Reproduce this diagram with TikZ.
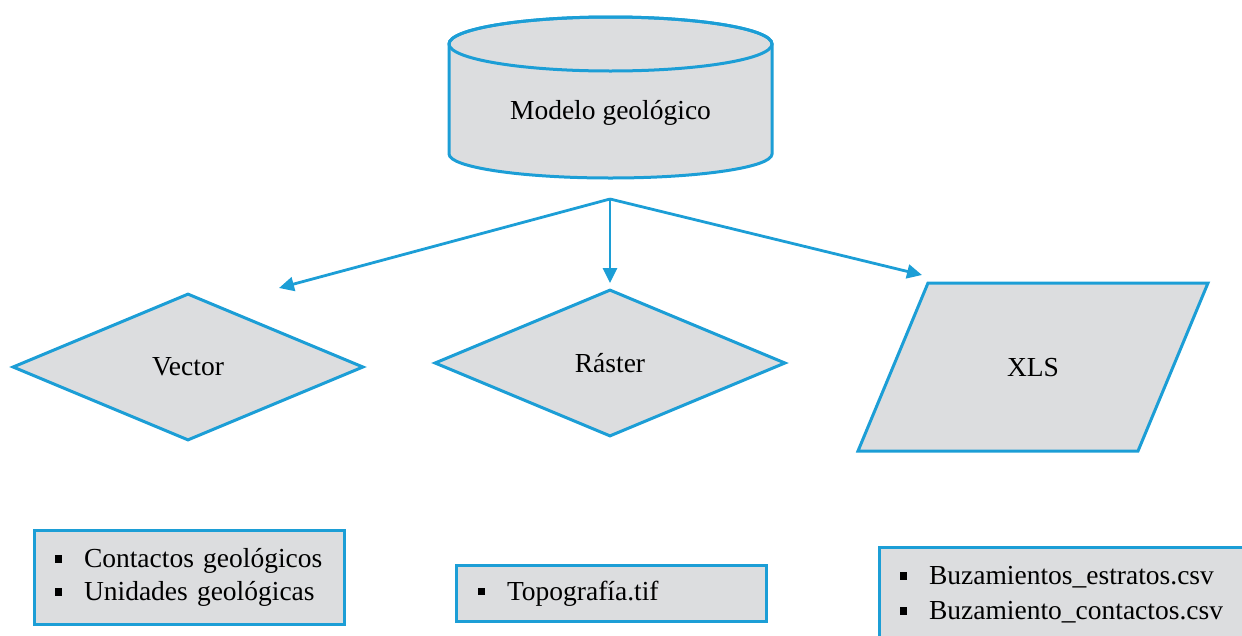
\documentclass[tikz,border=0pt]{standalone}
\usepackage{fontspec}
\setmainfont{Liberation Serif}
\usetikzlibrary{shapes.geometric,arrows.meta}
\definecolor{edgeblue}{RGB}{28,158,214}
\definecolor{shapegray}{RGB}{220,221,223}
\newcommand\sqbul{\rule[5pt]{7.5pt}{7.5pt}\hspace{22pt}}
\tikzset{
  x=1pt, y=-1pt,
  outline/.style={draw=edgeblue, line width=3pt, fill=shapegray},
  label text/.style={font=\fontsize{27.5}{33}\selectfont},
  flow/.style={draw=edgeblue, line width=2.8pt,
    -{Triangle[length=15pt,width=14pt]}},
  choice/.style={outline, diamond, inner sep=0pt, label text},
  listbox/.style={outline, rectangle, anchor=north west, align=left,
    label text, inner ysep=0pt},
}
\begin{document}
\begin{tikzpicture}
\useasboundingbox (0,0) rectangle (1242,635);

% database cylinder
\path[outline] (449,44) -- (449,154)
  arc[start angle=180, end angle=0, x radius=161.5, y radius=24]
  -- (772,44)
  arc[start angle=0, end angle=-180, x radius=161.5, y radius=27] -- cycle;
\draw[draw=edgeblue, line width=3pt] (610.5,44) ellipse[x radius=161.5, y radius=27];
\node[label text] (model) at (610.5,113) {Modelo geológico};

% outputs
\node[choice, minimum width=351pt, minimum height=147pt] (vector) at (188,367) {Vector};
\node[choice, minimum width=351pt, minimum height=147pt] (raster) at (610,363) {Ráster};

\coordinate (p1) at (928,283);
\coordinate (p2) at (1208,283);
\coordinate (p3) at (1138,451);
\coordinate (p4) at (858,451);
\path[outline] (p1) -- (p2) -- (p3) -- (p4) -- cycle;
\node[label text] (xls) at (1033,368) {XLS};

% branching connectors
\coordinate (hub) at (610,199);
\coordinate (toVector) at (279,288);
\coordinate (toRaster) at (610,283);
\coordinate (toXls) at (922,275);
\draw[flow] (hub) -- (toVector);
\draw[flow] (hub) -- (toRaster);
\draw[flow] (hub) -- (toXls);

% file lists
\node[listbox, minimum width=310pt, minimum height=94pt, inner xsep=20pt,
  text width=270pt] (vlist) at (33,529)
  {\sqbul Contactos geológicos\\ \sqbul Unidades geológicas};
\node[listbox, minimum width=310pt, minimum height=56pt, inner xsep=21pt,
  text width=268pt] (rlist) at (455,564)
  {\sqbul Topografía.tif};
\node[listbox, minimum width=380pt, minimum height=95pt, inner xsep=20pt,
  text width=340pt, font=\fontsize{27.5}{35}\selectfont] (xlist) at (878,546)
  {\sqbul Buzamientos\_estratos.csv\\ \sqbul Buzamiento\_contactos.csv};
\end{tikzpicture}
\end{document}
